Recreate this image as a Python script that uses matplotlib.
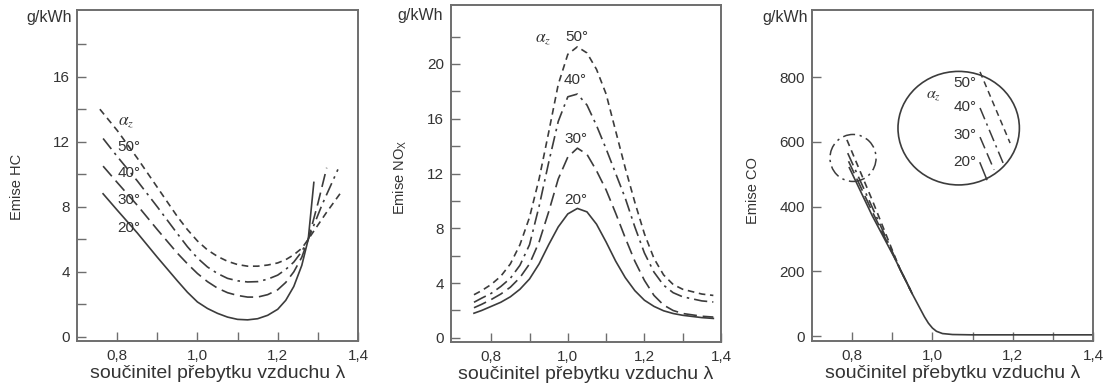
import matplotlib
matplotlib.use("Agg")
import matplotlib.pyplot as plt
from matplotlib.patches import Ellipse
from matplotlib.ticker import FixedLocator, FuncFormatter

# ---------------- data ----------------
angles = ["20°", "30°", "40°", "50°"]

# HC emissions (g/kWh) vs lambda
hc_x_20 = [0.765, 0.80, 0.85, 0.90, 0.95, 0.975, 1.00, 1.025, 1.05, 1.075, 1.10, 1.125, 1.15, 1.175, 1.20, 1.22, 1.24, 1.26, 1.276, 1.29]
hc_20 = [8.8, 7.8, 6.4, 4.9, 3.45, 2.75, 2.15, 1.75, 1.45, 1.22, 1.08, 1.05, 1.12, 1.33, 1.7, 2.25, 3.1, 4.4, 6.0, 9.5]
hc_x_30 = [0.765, 0.80, 0.85, 0.90, 0.95, 0.975, 1.00, 1.025, 1.05, 1.075, 1.10, 1.125, 1.15, 1.175, 1.20, 1.22, 1.24, 1.26, 1.276, 1.30, 1.322]
hc_30 = [10.5, 9.5, 8.1, 6.6, 5.15, 4.5, 3.9, 3.4, 3.0, 2.72, 2.55, 2.45, 2.45, 2.6, 2.9, 3.35, 4.0, 4.9, 6.0, 8.2, 10.4]
hc_x_40 = [0.765, 0.80, 0.85, 0.90, 0.95, 0.975, 1.00, 1.025, 1.05, 1.075, 1.10, 1.125, 1.15, 1.175, 1.20, 1.22, 1.24, 1.26, 1.276, 1.31, 1.35]
hc_40 = [12.2, 11.1, 9.6, 8.0, 6.35, 5.55, 4.85, 4.3, 3.9, 3.6, 3.45, 3.38, 3.4, 3.55, 3.8, 4.15, 4.6, 5.25, 6.0, 8.1, 10.3]
hc_x_50 = [0.757, 0.80, 0.85, 0.90, 0.95, 0.975, 1.00, 1.025, 1.05, 1.075, 1.10, 1.125, 1.15, 1.175, 1.20, 1.22, 1.24, 1.26, 1.276, 1.32, 1.358]
hc_50 = [14.0, 12.7, 11.0, 9.2, 7.4, 6.6, 5.9, 5.35, 4.95, 4.65, 4.45, 4.35, 4.35, 4.42, 4.55, 4.75, 5.05, 5.45, 6.0, 7.6, 8.9]

# NOx emissions (g/kWh) vs lambda
nox_x = [0.755, 0.775, 0.80, 0.825, 0.85, 0.875, 0.90, 0.925, 0.95, 0.975, 1.0, 1.025, 1.05, 1.075,
         1.10, 1.125, 1.15, 1.175, 1.20, 1.225, 1.25, 1.275, 1.30, 1.35, 1.38]
nox_20 = [1.8, 2.0, 2.3, 2.6, 3.0, 3.55, 4.3, 5.4, 6.8, 8.1, 9.05, 9.45, 9.2, 8.3,
          7.0, 5.6, 4.4, 3.45, 2.75, 2.3, 1.98, 1.78, 1.65, 1.48, 1.42]
nox_30 = [2.2, 2.45, 2.8, 3.2, 3.7, 4.4, 5.4, 7.0, 9.2, 11.6, 13.2, 13.85, 13.4, 12.2,
          10.8, 9.1, 7.3, 5.6, 4.2, 3.1, 2.4, 2.0, 1.78, 1.58, 1.52]
nox_40 = [2.6, 2.9, 3.25, 3.75, 4.35, 5.3, 6.8, 9.6, 12.8, 15.8, 17.6, 17.8, 17.0, 15.5,
          13.8, 12.0, 10.2, 8.1, 6.2, 4.8, 3.85, 3.3, 3.0, 2.7, 2.62]
nox_50 = [3.15, 3.45, 3.9, 4.5, 5.4, 6.8, 8.8, 11.6, 15.0, 18.5, 20.7, 21.25, 20.8, 19.6,
          17.8, 15.1, 12.4, 9.9, 7.6, 5.8, 4.6, 3.9, 3.55, 3.2, 3.1]

# CO emissions (g/kWh) vs lambda
co_x_20 = [0.793, 0.85, 0.905, 0.92, 0.935, 0.95, 0.965, 0.98, 0.99, 1.0, 1.01, 1.025, 1.05, 1.1, 1.2, 1.3, 1.4]
co_20 = [520, 372, 243, 205, 168, 130, 95, 60, 40, 25, 15, 8, 5, 4, 4, 4, 4]
co_x_30 = [0.791, 0.85, 0.905, 0.92, 0.935, 0.95]
co_30 = [540, 385, 245, 205, 168, 130]
co_x_40 = [0.789, 0.85, 0.905, 0.92, 0.935, 0.95]
co_40 = [565, 398, 247, 205, 168, 130]
co_x_50 = [0.787, 0.85, 0.905, 0.92, 0.935, 0.95]
co_50 = [606, 420, 250, 205, 168, 130]

x_major = [0.8, 1.0, 1.2, 1.4]
x_minor = [0.9, 1.1, 1.3]
hc_yticks = [0, 4, 8, 12, 16]
hc_yminor = [2, 6, 10, 14, 18]
nox_yticks = [0, 4, 8, 12, 16, 20]
nox_yminor = [2, 6, 10, 14, 18, 22]
co_yticks = [0, 200, 400, 600, 800]

x_label = "součinitel přebytku vzduchu λ"
unit = "g/kWh"

# ---------------- style ----------------
plt.rcParams['font.family'] = ['Liberation Sans', 'DejaVu Sans']
plt.rcParams['mathtext.fontset'] = 'custom'
plt.rcParams['mathtext.rm'] = 'Liberation Sans'
plt.rcParams['mathtext.it'] = 'Liberation Sans:italic'

LC = '#3c3c3c'
TC = '#333333'
SC = '#6e6e6e'
styles = {
    "20°": dict(ls='-'),
    "30°": dict(ls=(0, (8, 3.5))),
    "40°": dict(ls=(0, (8, 3, 1.5, 3))),
    "50°": dict(ls=(0, (4, 2.8))),
}

fig = plt.figure(figsize=(11.04, 3.92), dpi=100)
W, H = 1104, 392
ax1 = fig.add_axes([77 / W, 51 / H, 281 / W, 331 / H])
ax2 = fig.add_axes([451 / W, 50 / H, 270 / W, 337 / H])
ax3 = fig.add_axes([812 / W, 51 / H, 281 / W, 331 / H])

comma = FuncFormatter(lambda v, p: f"{v:.1f}".replace('.', ','))


def style_axes(ax, xlim, ylim, ymaj, ymin, ylab, ylab_pos, unit_pos):
    ax.set_xlim(*xlim)
    ax.set_ylim(*ylim)
    ax.xaxis.set_major_locator(FixedLocator(x_major))
    ax.xaxis.set_minor_locator(FixedLocator(x_minor))
    ax.xaxis.set_major_formatter(comma)
    ax.yaxis.set_major_locator(FixedLocator(ymaj))
    ax.yaxis.set_major_formatter(FuncFormatter(lambda v, p: f"{v:.0f}"))
    if ymin:
        ax.yaxis.set_minor_locator(FixedLocator(ymin))
    for s in ax.spines.values():
        s.set_color(SC)
        s.set_linewidth(1.4)
    ax.tick_params(which='both', direction='in', length=6.5, width=1.0,
                   color=SC, labelsize=11, labelcolor=TC, top=False, right=False)
    ax.tick_params(axis='y', pad=5)
    ax.tick_params(axis='x', pad=6)
    ax.set_xlabel(x_label, fontsize=14, color=TC)
    ax.xaxis.set_label_coords(0.5, -0.072)
    ax.xaxis.label.set_va('top')
    ax.set_ylabel(ylab, fontsize=10.5, color=TC)
    ax.yaxis.set_label_coords(*ylab_pos)
    ax.text(unit_pos[0], unit_pos[1], unit, transform=ax.transAxes, ha='right',
            va='center', fontsize=11.5, color=TC)


# ---- HC ----
for a, xs, ys in zip(angles, [hc_x_20, hc_x_30, hc_x_40, hc_x_50], [hc_20, hc_30, hc_40, hc_50]):
    ax1.plot(xs, ys, color=LC, lw=1.2, **styles[a])
style_axes(ax1, (0.7, 1.4), (-0.25, 20.1), hc_yticks, hc_yminor, "Emise HC", (-0.189, 0.465), (-0.02, 0.976))
ax1.text(0.803, 13.2, r"$\alpha_z$", fontsize=12.5, color=TC, math_fontfamily='stix', ha='left', va='center')
for a, yv in zip(["50°", "40°", "30°", "20°"], [11.7, 10.1, 8.4, 6.7]):
    ax1.text(0.80, yv, a, fontsize=11, color=TC, ha='left', va='center')

# ---- NOx ----
for a, ys in zip(angles, [nox_20, nox_30, nox_40, nox_50]):
    ax2.plot(nox_x, ys, color=LC, lw=1.2, **styles[a])
style_axes(ax2, (0.695, 1.4), (-0.3, 24.3), nox_yticks, nox_yminor, r"Emise NO$_\mathrm{X}$", (-0.156, 0.49), (-0.03, 0.97))
ax2.text(0.935, 21.8, r"$\alpha_z$", fontsize=12.5, color=TC, math_fontfamily='stix', ha='center', va='center')
for a, (xv, yv) in zip(["50°", "40°", "30°", "20°"], [(1.024, 21.95), (1.02, 18.8), (1.02, 14.5), (1.02, 10.1)]):
    ax2.text(xv, yv, a, fontsize=11, color=TC, ha='center', va='center')

# ---- CO ----
for a, xs, ys in zip(angles, [co_x_20, co_x_30, co_x_40, co_x_50], [co_20, co_30, co_40, co_50]):
    ax3.plot(xs, ys, color=LC, lw=1.2, **styles[a])
style_axes(ax3, (0.7, 1.4), (-15, 1007), co_yticks, None, "Emise CO", (-0.185, 0.456), (-0.015, 0.976))

# small dash-dot circle around the line starts
ax3.add_patch(Ellipse((0.146, 0.553), 0.164, 0.142, transform=ax3.transAxes, fill=False,
                      ec=LC, lw=1.1, ls=(0, (8, 3, 1.5, 3))))
# magnified view circle
ax3.add_patch(Ellipse((0.522, 0.643), 0.432, 0.343, transform=ax3.transAxes, fill=False,
                      ec=LC, lw=1.2))
ax3.text(0.432, 0.745, r"$\alpha_z$", transform=ax3.transAxes, fontsize=11.5,
         color=TC, math_fontfamily='stix', ha='center', va='center')
for a, fy in zip(["50°", "40°", "30°", "20°"], [0.779, 0.707, 0.622, 0.541]):
    ax3.text(0.545, fy, a, transform=ax3.transAxes, fontsize=11, color=TC, ha='center', va='center')
mag_lines = {
    "50°": ((0.598, 0.705), (0.813, 0.598)),
    "40°": ((0.598, 0.680), (0.704, 0.538)),
    "30°": ((0.598, 0.648), (0.616, 0.517)),
    "20°": ((0.598, 0.622), (0.538, 0.488)),
}
for a, (xx, yy) in mag_lines.items():
    ax3.plot(xx, yy, transform=ax3.transAxes, color=LC, lw=1.1, **styles[a])

fig.savefig("out.png", dpi=100)
